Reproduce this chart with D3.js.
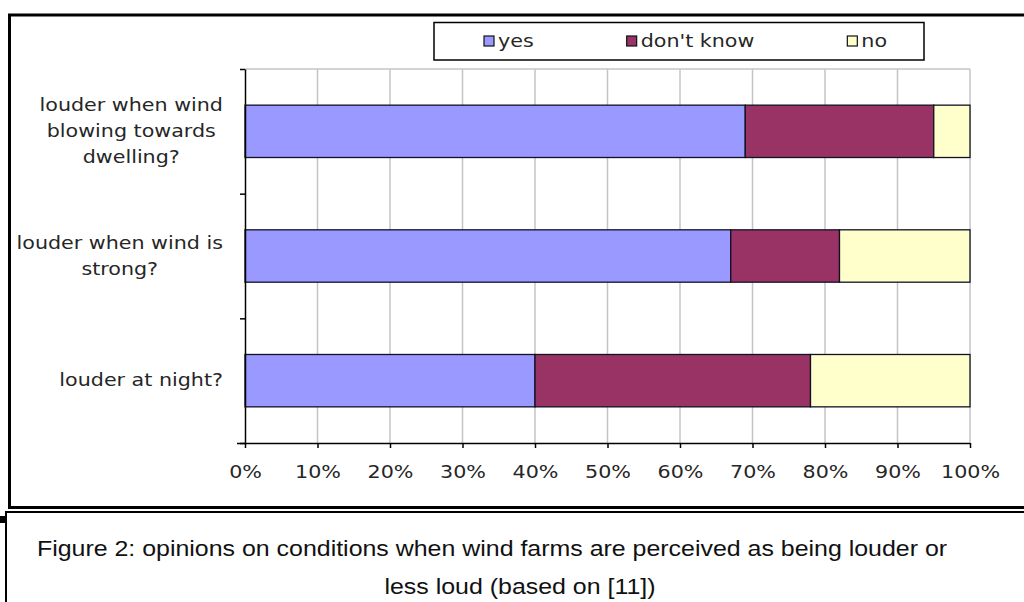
<!DOCTYPE html>
<html>
<head>
<meta charset="utf-8">
<script src="https://cdn.jsdelivr.net/npm/d3@7"></script>
<style>
  html, body { margin: 0; padding: 0; background: #fff; }
  svg { display: block; }
</style>
</head>
<body>
<svg id="chart" width="1024" height="602"></svg>
<script>
// Survey answers (percent of respondents), one entry per question
const categories = [
  "louder when wind blowing towards dwelling?",
  "louder when wind is strong?",
  "louder at night?"
];
const categoryLines = [
  ["louder when wind", "blowing towards", "dwelling?"],
  ["louder when wind is", "strong?"],
  ["louder at night?"]
];
const seriesNames = ["yes", "don't know", "no"];
const yesValues = [69, 67, 40];
const dontKnowValues = [26, 15, 38];
const noValues = [5, 18, 22];
const tickValues = [0, 10, 20, 30, 40, 50, 60, 70, 80, 90, 100];
const tickLabels = ["0%", "10%", "20%", "30%", "40%", "50%", "60%", "70%", "80%", "90%", "100%"];
const captionLines = [
  "Figure 2: opinions on conditions when wind farms are perceived as being louder or",
  "less loud (based on [11])"
];

const colors = { "yes": "#9999ff", "don't know": "#993366", "no": "#ffffcc" };

const rows = categories.map((c, i) => ({
  category: c,
  "yes": yesValues[i],
  "don't know": dontKnowValues[i],
  "no": noValues[i]
}));

const svg = d3.select("#chart");
const FONT = "'DejaVu Sans', Verdana, sans-serif";
const FS = 17.5;    // chart text size
const SX = 1.18;    // horizontal stretch of the chart lettering
const TEXT = "#262626";

// Outer frame of the chart object
svg.append("rect")
  .attr("x", 9.5).attr("y", 15).attr("width", 1040).attr("height", 492.5)
  .attr("fill", "#fff").attr("stroke", "#000").attr("stroke-width", 3);

// Plot area
const plot = { left: 245, right: 970, top: 69, bottom: 443 };

const x = d3.scaleLinear().domain([0, 100]).range([plot.left, plot.right]);
const y = d3.scaleBand().domain(categories)
  .range([plot.top, plot.bottom])
  .paddingInner(0.58).paddingOuter(0.29);
const yEdges = d3.scaleLinear().domain([0, categories.length]).range([plot.top, plot.bottom]);

// Gridlines and plot border (grey)
const grid = svg.append("g");
grid.selectAll("line.v")
  .data(tickValues.slice(1))
  .join("line")
  .attr("x1", d => x(d)).attr("x2", d => x(d))
  .attr("y1", plot.top).attr("y2", plot.bottom)
  .attr("stroke", "#c4c4c4").attr("stroke-width", 1.5);
grid.append("line")
  .attr("x1", plot.left).attr("x2", plot.right)
  .attr("y1", plot.top).attr("y2", plot.top)
  .attr("stroke", "#c4c4c4").attr("stroke-width", 1.5);

// Stacked bars
const stack = d3.stack().keys(seriesNames);
const stacked = stack(rows);
svg.append("g").selectAll("g")
  .data(stacked)
  .join("g")
  .attr("fill", d => colors[d.key])
  .selectAll("rect")
  .data(d => d)
  .join("rect")
  .attr("x", d => x(d[0]))
  .attr("width", d => x(d[1]) - x(d[0]))
  .attr("y", d => y(d.data.category))
  .attr("height", y.bandwidth())
  .attr("stroke", "#111122").attr("stroke-width", 1.3);

// Category axis (ticks at category boundaries)
const yAxis = svg.append("g")
  .attr("transform", `translate(${plot.left},0)`)
  .call(d3.axisLeft(yEdges).ticks(categories.length).tickSize(5).tickSizeOuter(0).tickFormat(""));
yAxis.select(".domain").attr("stroke", "#000").attr("stroke-width", 1.5);
yAxis.selectAll(".tick line").attr("stroke", "#000").attr("stroke-width", 1.5);

// Value axis
const xAxis = svg.append("g")
  .attr("transform", `translate(0,${plot.bottom})`)
  .call(d3.axisBottom(x).tickValues(tickValues).tickSize(5).tickSizeOuter(0)
    .tickFormat((d, i) => tickLabels[i]));
xAxis.select(".domain").attr("stroke", "#000").attr("stroke-width", 1.5)
  .attr("d", `M${plot.left - 8},0.5H${plot.right}`);
xAxis.selectAll(".tick line").attr("stroke", "#000").attr("stroke-width", 1.5);
xAxis.selectAll(".tick text")
  .attr("font-family", FONT).attr("font-size", FS).attr("fill", TEXT)
  .attr("y", 0).attr("dy", null)
  .attr("transform", `translate(0,35) scale(${SX},1)`);

// Category labels: lines centred within a block that is right-aligned to the axis
const labelRight = 223;
const lineGap = 26;
categories.forEach((c, i) => {
  const lines = categoryLines[i];
  const cy = y(c) + y.bandwidth() / 2;
  const g = svg.append("g");
  const texts = lines.map(ln => g.append("text")
    .attr("font-family", FONT).attr("font-size", FS).attr("fill", TEXT)
    .attr("text-anchor", "middle")
    .text(ln));
  const maxW = d3.max(texts, t => t.node().getComputedTextLength()) * SX;
  const cx = labelRight - maxW / 2;
  texts.forEach((t, j) => {
    const by = cy - (lines.length - 1) * lineGap / 2 + j * lineGap + 5.5;
    t.attr("transform", `translate(${cx},${by}) scale(${SX},1)`);
  });
});

// Legend
const legend = svg.append("g");
legend.append("rect")
  .attr("x", 434).attr("y", 22.5).attr("width", 490).attr("height", 37.5)
  .attr("fill", "#fff").attr("stroke", "#000").attr("stroke-width", 1.5);
let lx = 484;
seriesNames.forEach(name => {
  legend.append("rect")
    .attr("x", lx).attr("y", 36).attr("width", 10).attr("height", 10)
    .attr("fill", colors[name]).attr("stroke", "#111").attr("stroke-width", 1.2);
  const t = legend.append("text")
    .attr("font-family", FONT).attr("font-size", FS).attr("fill", TEXT)
    .attr("transform", `translate(${lx + 14},47) scale(${SX},1)`)
    .text(name);
  lx += 14 + t.node().getComputedTextLength() * SX + 93;
});

// Caption box
svg.append("rect")
  .attr("x", 6).attr("y", 512).attr("width", 1040).attr("height", 120)
  .attr("fill", "#fff").attr("stroke", "#000").attr("stroke-width", 2);
svg.append("rect")
  .attr("x", 0).attr("y", 516).attr("width", 5).attr("height", 7).attr("fill", "#000");

const capFont = "'Liberation Sans', Arial, sans-serif";
const capSX = 1.16;
const capCenters = [492, 520];
const capBaselines = [556, 594];
captionLines.forEach((ln, i) => {
  svg.append("text")
    .attr("font-family", capFont).attr("font-size", 21.5).attr("fill", "#111")
    .attr("text-anchor", "middle")
    .attr("transform", `translate(${capCenters[i]},${capBaselines[i]}) scale(${capSX},1)`)
    .text(ln);
});
</script>
</body>
</html>
